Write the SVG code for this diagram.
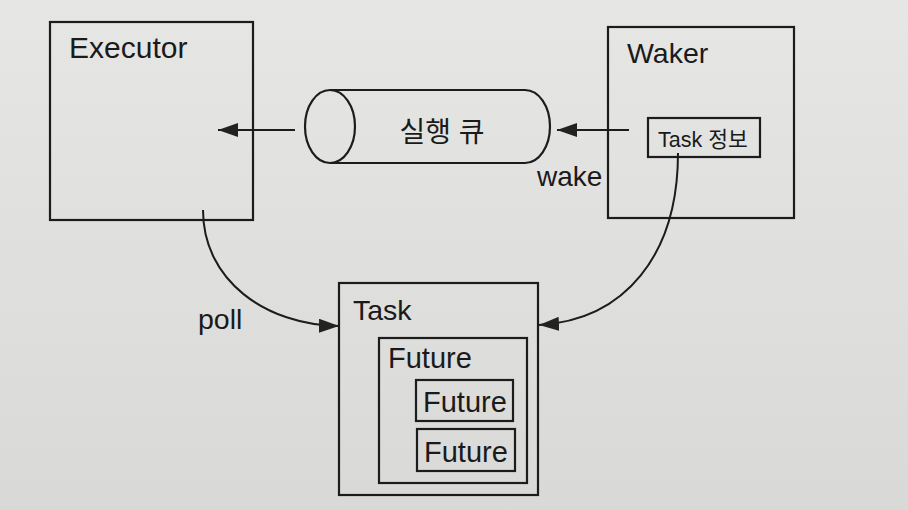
<svg xmlns="http://www.w3.org/2000/svg" width="908" height="510" viewBox="0 0 908 510">
<defs>
<linearGradient id="bg" x1="0" y1="0" x2="0" y2="1">
<stop offset="0" stop-color="#e6e6e4"/>
<stop offset="1" stop-color="#d9d9d7"/>
</linearGradient>
<marker id="ah" viewBox="0 0 20 14" refX="20" refY="7" markerWidth="20" markerHeight="14" markerUnits="userSpaceOnUse" orient="auto">
<path d="M0,0 L20,7 L0,14 Z" fill="#222"/>
</marker>
<style>
.box{fill:none;stroke:#1c1c1c;stroke-width:2.2}
.ln{fill:none;stroke:#1c1c1c;stroke-width:2}
.t{font-family:"Liberation Sans","Noto Sans CJK KR",sans-serif;fill:#1a1a1a}
</style>
</defs>
<rect width="908" height="510" fill="url(#bg)"/>
<g id="executor">
<rect class="box" x="50" y="22" width="203" height="198"/>
<text class="t" x="69" y="58" font-size="30">Executor</text>
</g>
<g id="waker">
<rect class="box" x="608" y="27" width="186" height="191"/>
<text class="t" x="627" y="63" font-size="28.5">Waker</text>
<rect class="box" x="648" y="118" width="112" height="39"/>
<text class="t" x="658" y="147" font-size="21.5">Task 정보</text>
</g>
<g id="queue">
<path class="box" d="M330,90 L525,90 A25,36.5 0 0 1 525,163 L330,163"/>
<ellipse class="box" cx="330" cy="126.5" rx="25" ry="36.5"/>
<text class="t" x="442" y="142" font-size="28" text-anchor="middle">실행 큐</text>
</g>
<g id="task">
<rect class="box" x="339" y="283" width="199" height="212"/>
<text class="t" x="353" y="320" font-size="28.5">Task</text>
<rect class="box" x="379" y="338" width="148" height="145"/>
<text class="t" x="388" y="368" font-size="29">Future</text>
<rect class="box" x="416" y="380" width="97" height="41"/>
<text class="t" x="423" y="412" font-size="29">Future</text>
<rect class="box" x="417" y="429" width="98" height="42"/>
<text class="t" x="424" y="462" font-size="29">Future</text>
</g>
<g id="connectors">
<line class="ln" x1="295" y1="130" x2="218" y2="130" marker-end="url(#ah)"/>
<line class="ln" x1="629" y1="130" x2="557" y2="130" marker-end="url(#ah)"/>
<path class="ln" d="M203,210 C203,280 265,325 339,326" marker-end="url(#ah)"/>
<path class="ln" d="M678,153 C678,255 625,320 539,325" marker-end="url(#ah)"/>
<text class="t" x="537" y="186" font-size="28">wake</text>
<text class="t" x="198" y="329" font-size="28.5">poll</text>
</g>
</svg>
